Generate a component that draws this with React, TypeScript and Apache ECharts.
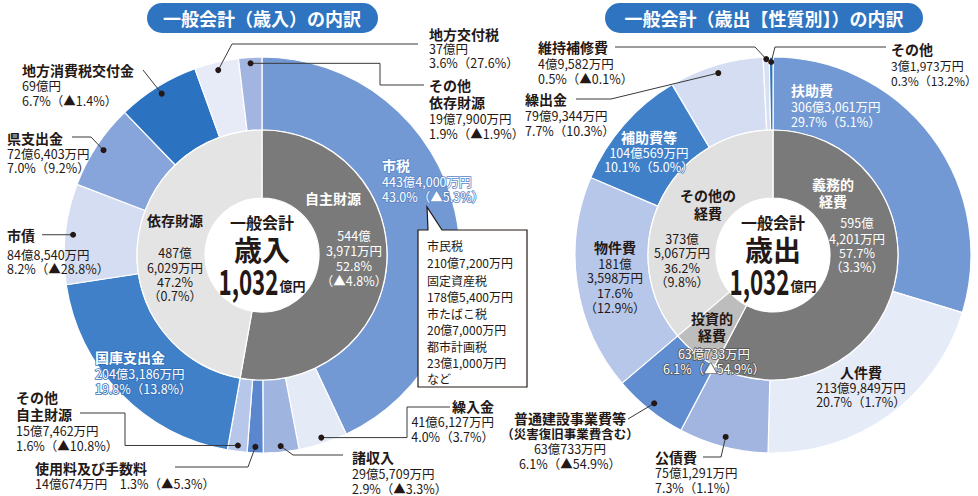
import React, { useEffect, useRef } from 'react';
import * as echarts from 'echarts';

// ---------- data ----------
const totalAmount = '1,032';

const revenueGroups = ['自主財源', '依存財源'];
const revenueGroupShares = [52.8, 47.2];
const revenueGroupAmounts = ['544億3,971万円', '487億6,029万円'];
const revenueGroupChanges = ['▲4.8%', '0.7%'];

const revenueItems = ['市税', '繰入金', '諸収入', '使用料及び手数料', 'その他自主財源', '国庫支出金', '市債', '県支出金', '地方消費税交付金', '地方交付税', 'その他依存財源'];
const revenueShares = [43.0, 4.0, 2.9, 1.3, 1.6, 19.8, 8.2, 7.0, 6.7, 3.6, 1.9];
const revenueAmounts = ['443億4,000万円', '41億6,127万円', '29億5,709万円', '14億674万円', '15億7,462万円', '204億3,186万円', '84億8,540万円', '72億6,403万円', '69億円', '37億円', '19億7,900万円'];
const revenueChanges = ['▲5.3%', '3.7%', '▲3.3%', '▲5.3%', '▲10.8%', '13.8%', '▲28.8%', '9.2%', '▲1.4%', '27.6%', '▲1.9%'];

const cityTaxItems = ['市民税', '固定資産税', '市たばこ税', '都市計画税'];
const cityTaxAmounts = ['210億7,200万円', '178億5,400万円', '20億7,000万円', '23億1,000万円'];

const expenditureGroups = ['義務的経費', '投資的経費', 'その他の経費'];
const expenditureGroupShares = [57.7, 6.1, 36.2];
const expenditureGroupAmounts = ['595億4,201万円', '63億733万円', '373億5,067万円'];
const expenditureGroupChanges = ['3.3%', '▲54.9%', '9.8%'];

const expenditureItems = ['扶助費', '人件費', '公債費', '普通建設事業費等', '物件費', '補助費等', '繰出金', '維持補修費', 'その他'];
const expenditureShares = [29.7, 20.7, 7.3, 6.1, 17.6, 10.1, 7.7, 0.5, 0.3];
const expenditureAmounts = ['306億3,061万円', '213億9,849万円', '75億1,291万円', '63億733万円', '181億3,598万円', '104億569万円', '79億9,344万円', '4億9,582万円', '3億1,973万円'];
const expenditureChanges = ['5.1%', '1.7%', '1.1%', '▲54.9%', '12.9%', '5.0%', '10.3%', '▲0.1%', '13.2%'];

// ---------- styles ----------
const FONT = '"Noto Sans CJK JP", "Noto Sans", sans-serif';
const DARK = '#231815';
const REV_INNER_COLORS = ['#7a7a7a', '#e4e4e4'];
const REV_OUTER_COLORS = ['#7399d4', '#e5eaf7', '#a0b4e0', '#5a87cd', '#b7c7ea', '#3f80c9', '#d4ddf2', '#87a4db', '#2b72c0', '#e7ebf8', '#a2b5e1'];
const EXP_INNER_COLORS = ['#7a7a7a', '#bdbdbd', '#e0e0e0'];
const EXP_OUTER_COLORS = ['#7399d4', '#e6ebf8', '#a2b5e1', '#5f8dd0', '#b7c7ea', '#3f80c9', '#d4ddf2', '#d8e0f3', '#2b72c0'];

const LC = [262, 255];
const RC = [773, 255];
const R_IN = 57;
const R_MID = 125;
const R_OUT = 198;

const pct = (s: number, c: string) => `${s.toFixed(1)}%（${c}）`;
const yen = (a: string) => a.split('億');

function measure(text: string, font: string) {
  const ctx = document.createElement('canvas').getContext('2d');
  if (!ctx) return text.length * 10;
  ctx.font = font;
  return ctx.measureText(text).width;
}

function anchor(shares: number[], idx: number, c: number[], r: number) {
  const total = shares.reduce((a, b) => a + b, 0);
  let cum = 0;
  for (let i = 0; i < idx; i++) cum += shares[i];
  const f = (cum + shares[idx] / 2) / total;
  const a = f * Math.PI * 2;
  return [c[0] + r * Math.sin(a), c[1] - r * Math.cos(a)];
}

type TO = { bold?: boolean; size?: number; fill?: string; align?: string; stroke?: string; lw?: number };
function T(text: string, x: number, y: number, o: TO = {}) {
  const size = o.size ?? 12.5;
  const st: any = {
    text, x, y,
    fill: o.fill ?? DARK,
    font: `${o.bold ? 'bold' : 'normal'} ${size}px ${FONT}`,
    lineHeight: Math.round(size * 1.05),
    textAlign: o.align ?? 'left',
    textVerticalAlign: 'middle',
    align: o.align ?? 'left',
    verticalAlign: 'middle',
  };
  if (o.stroke) {
    st.stroke = o.stroke;
    st.lineWidth = o.lw ?? 2;
    st.strokeFirst = true;
  }
  return { type: 'text', z: 20, silent: true, style: st };
}
function L(points: number[][]) {
  return { type: 'polyline', z: 20, silent: true, shape: { points }, style: { stroke: '#3a3a3a', lineWidth: 1, fill: null } };
}
function D(p: number[]) {
  return { type: 'circle', z: 21, silent: true, shape: { cx: p[0], cy: p[1], r: 3 }, style: { fill: DARK } };
}
function block(lines: { t: string; bold?: boolean; size?: number }[], x: number, ys: number[], o: TO = {}) {
  return lines.map((l, i) => T(l.t, x, ys[i], { ...o, bold: l.bold, size: l.size ?? (l.bold ? 14 : o.size ?? 12.5) }));
}
function centerTotal(c: number[], word: string) {
  const numFont = `bold 35px ${FONT}`;
  const unitFont = `bold 13px ${FONT}`;
  const targetNumW = 60;
  const sx = targetNumW / measure(totalAmount, numFont);
  const unitW = measure('億円', unitFont);
  const start = c[0] - (targetNumW + 1 + unitW) / 2;
  return [
    T('一般会計', c[0], 222, { bold: true, size: 16, align: 'center' }),
    T(word, c[0], 249, { bold: true, size: 28, align: 'center' }),
    { type: 'text', z: 20, silent: true, x: start, y: 280, scaleX: sx,
      style: { text: totalAmount, x: 0, y: 0, fill: DARK, font: numFont, lineHeight: 30, textAlign: 'left', textVerticalAlign: 'middle', align: 'left', verticalAlign: 'middle' } },
    T('億円', start + targetNumW + 1, 285, { bold: true, size: 13 }),
  ];
}

function buildGraphics() {
  const g: any[] = [];
  // titles
  g.push({ type: 'rect', z: 5, silent: true, shape: { x: 147, y: 3, width: 231, height: 30, r: 15 }, style: { fill: '#2f74c0' } });
  g.push(T('一般会計（歳入）の内訳', 262, 18, { bold: true, size: 18, fill: '#fff', align: 'center' }));
  g.push({ type: 'rect', z: 5, silent: true, shape: { x: 605, y: 3, width: 318, height: 30, r: 15 }, style: { fill: '#2f74c0' } });
  g.push(T('一般会計（歳出【性質別】）の内訳', 764, 18, { bold: true, size: 18, fill: '#fff', align: 'center' }));

  // ---- revenue ----
  g.push(...centerTotal(LC, '歳入'));
  g.push(T(revenueGroups[0], 333, 198, { bold: true, size: 14, fill: '#fff', align: 'center' }));
  {
    const [a, b] = yen(revenueGroupAmounts[0]);
    g.push(...block([{ t: a + '億' }, { t: b }, { t: revenueGroupShares[0].toFixed(1) + '%' }, { t: `（${revenueGroupChanges[0]}）` }], 354, [235, 250, 265, 280], { fill: '#fff', align: 'center' }));
  }
  g.push(T(revenueGroups[1], 175, 220, { bold: true, size: 14, align: 'center' }));
  {
    const [a, b] = yen(revenueGroupAmounts[1]);
    g.push(...block([{ t: a + '億' }, { t: b }, { t: revenueGroupShares[1].toFixed(1) + '%' }, { t: `（${revenueGroupChanges[1]}）` }], 175, [252, 267, 281, 295], { align: 'center' }));
  }
  const rl = (i: number) => [{ t: revenueAmounts[i] }, { t: pct(revenueShares[i], revenueChanges[i]) }];
  // 市税
  g.push(...block([{ t: revenueItems[0], bold: true }, ...rl(0)], 382, [165, 181, 196], { fill: '#fff', stroke: '#5b86c8', lw: 1.6 }));
  // 国庫支出金
  g.push(...block([{ t: revenueItems[5], bold: true }, ...rl(5)], 95, [357, 373, 388], { fill: '#fff', stroke: '#3470b8', lw: 1.6 }));
  // 地方交付税
  {
    const p = anchor(revenueShares, 9, LC, 190);
    g.push(L([[418, 44], [232, 44], p]), D(p));
    g.push(...block([{ t: revenueItems[9], bold: true }, ...rl(9)], 429, [34, 48, 62]));
  }
  // その他依存財源
  {
    const p = anchor(revenueShares, 10, LC, 192);
    g.push(L([p, [380, p[1]], [380, 85], [424, 85]]), D(p));
    g.push(...block([{ t: 'その他', bold: true }, { t: '依存財源', bold: true }, ...rl(10)], 429, [85, 102, 118, 133]));
  }
  // 地方消費税交付金
  {
    const p = anchor(revenueShares, 8, LC, 190);
    g.push(L([[143, 70], p]), D(p));
    g.push(...block([{ t: revenueItems[8], bold: true }, ...rl(8)], 22, [70, 85, 100]));
  }
  // 県支出金
  {
    const p = anchor(revenueShares, 7, LC, 190);
    g.push(L([[72, 137], [91, 137], p]), D(p));
    g.push(...block([{ t: revenueItems[7], bold: true }, ...rl(7)], 7, [138, 153, 167]));
  }
  // 市債
  {
    const p = anchor(revenueShares, 6, LC, 190);
    g.push(L([[42, p[1]], p]), D(p));
    g.push(...block([{ t: revenueItems[6], bold: true }, ...rl(6)], 7, [p[1], 254, 268]));
  }
  // その他自主財源
  {
    const p = anchor(revenueShares, 4, LC, 192);
    g.push(L([[80, 413], [125, 413], [125, p[1]], p]), D(p));
    g.push(...block([{ t: 'その他', bold: true }, { t: '自主財源', bold: true }, ...rl(4)], 16, [397, 414, 430, 445]));
  }
  // 使用料及び手数料
  {
    const p = anchor(revenueShares, 3, LC, 192);
    g.push(L([[175, 467], [248, 467], p]), D(p));
    g.push(T(revenueItems[3], 35, 468, { bold: true, size: 14 }));
    g.push(T(`${revenueAmounts[3]}　${pct(revenueShares[3], revenueChanges[3])}`, 35, 483));
  }
  // 諸収入
  {
    const p = anchor(revenueShares, 2, LC, 192);
    g.push(L([p, [293, 455], [343, 455]]), D(p));
    g.push(...block([{ t: revenueItems[2], bold: true }, ...rl(2)], 352, [457, 473, 488]));
  }
  // 繰入金
  {
    const p = anchor(revenueShares, 1, LC, 192);
    g.push(L([p, [407, p[1]], [407, 407], [450, 407]]), D(p));
    g.push(...block([{ t: revenueItems[1], bold: true }, ...rl(1)], 494, [406, 421, 436], { align: 'right' }));
  }
  // 市税 callout box
  g.push({
    type: 'polygon', z: 15, silent: true,
    shape: { points: [[418, 230], [428, 230], [427, 207], [442, 230], [527, 230], [527, 387], [418, 387]] },
    style: { fill: '#fff', stroke: DARK, lineWidth: 1.2 },
  });
  {
    const ys = [245, 262, 280, 296, 313, 329, 346, 362];
    cityTaxItems.forEach((n, i) => {
      g.push(T(n, 427, ys[i * 2], { size: 12 }));
      g.push(T(cityTaxAmounts[i], 427, ys[i * 2 + 1], { size: 12 }));
    });
    g.push(T('など', 427, 378, { size: 12 }));
  }

  // ---- expenditure ----
  g.push(...centerTotal(RC, '歳出'));
  g.push(...block([{ t: '義務的', bold: true }, { t: '経費', bold: true }], 833, [184, 201], { fill: '#fff', align: 'center' }));
  {
    const [a, b] = yen(expenditureGroupAmounts[0]);
    g.push(...block([{ t: a + '億' }, { t: b }, { t: expenditureGroupShares[0].toFixed(1) + '%' }, { t: `（${expenditureGroupChanges[0]}）` }], 857, [222, 238, 252, 266], { fill: '#fff', align: 'center' }));
  }
  g.push(...block([{ t: 'その他の', bold: true }, { t: '経費', bold: true }], 708, [195, 213], { align: 'center' }));
  {
    const [a, b] = yen(expenditureGroupAmounts[2]);
    g.push(...block([{ t: a + '億' }, { t: b }, { t: expenditureGroupShares[2].toFixed(1) + '%' }, { t: `（${expenditureGroupChanges[2]}）` }], 682, [238, 252, 267, 281], { align: 'center' }));
  }
  g.push(...block([{ t: '投資的', bold: true }, { t: '経費', bold: true }], 712, [318, 335], { align: 'center' }));
  g.push(...block([{ t: expenditureGroupAmounts[1] }, { t: pct(expenditureGroupShares[1], expenditureGroupChanges[1]) }], 714, [353, 368], { fill: '#fff', align: 'center', stroke: '#555', lw: 1.6 }));

  const el = (i: number) => [{ t: expenditureAmounts[i] }, { t: pct(expenditureShares[i], expenditureChanges[i]) }];
  // 扶助費
  g.push(...block([{ t: expenditureItems[0], bold: true }, ...el(0)], 791, [90, 106, 121], { fill: '#fff' }));
  // 補助費等
  g.push(...block([{ t: expenditureItems[5], bold: true }, ...el(5)], 649, [137, 152, 166], { fill: '#fff', align: 'center', stroke: '#3f80c9', lw: 1.4 }));
  // 物件費
  {
    const [a, b] = yen(expenditureAmounts[4]);
    g.push(...block([{ t: expenditureItems[4], bold: true }, { t: a + '億' }, { t: b }, { t: expenditureShares[4].toFixed(1) + '%' }, { t: `（${expenditureChanges[4]}）` }], 615, [247, 263, 277, 292, 307], { align: 'center' }));
  }
  // 人件費
  g.push(...block([{ t: expenditureItems[1], bold: true }, ...el(1)], 861, [372, 387, 401], { align: 'center' }));
  // その他
  {
    const p = anchor(expenditureShares, 8, RC, 193);
    g.push(L([p, [775, 47], [886, 47]]), D(p));
    g.push(...block([{ t: expenditureItems[8], bold: true }, ...el(8)], 891, [49, 65, 80], { size: 12 }));
  }
  // 維持補修費
  {
    const p = anchor(expenditureShares, 7, RC, 196);
    g.push(L([[615, 47], [755, 47], p]), D(p));
    g.push(...block([{ t: expenditureItems[7], bold: true }, ...el(7)], 538, [47, 63, 78]));
  }
  // 繰出金
  {
    const p = anchor(expenditureShares, 6, RC, 190);
    g.push(L([[576, 99], [611, 99], p]), D(p));
    g.push(...block([{ t: expenditureItems[6], bold: true }, ...el(6)], 525, [99, 115, 130]));
  }
  // 普通建設事業費等
  {
    const p = anchor(expenditureShares, 3, RC, 190);
    g.push(L([[628, 419], p]), D(p));
    g.push(...block([{ t: expenditureItems[3], bold: true }, { t: '（災害復旧事業費含む）', bold: true, size: 12.5 }, ...el(3)], 570, [418, 433, 448, 463], { align: 'center' }));
  }
  // 公債費
  {
    const p = anchor(expenditureShares, 2, RC, 188);
    g.push(L([[703, 457], [721, 457], p]), D(p));
    g.push(...block([{ t: expenditureItems[2], bold: true }, ...el(2)], 655, [457, 472, 487]));
  }
  return g;
}

function pie(c: number[], radius: number[], names: string[], values: number[], colors: string[]) {
  return {
    type: 'pie', center: c, radius, startAngle: 90, clockwise: true, silent: true,
    label: { show: false }, labelLine: { show: false }, z: 2,
    itemStyle: { borderColor: '#fff', borderWidth: 1.2 },
    data: names.map((n, i) => ({ name: n, value: values[i], itemStyle: { color: colors[i] } })),
  };
}

export default function App() {
  const ref = useRef<HTMLDivElement>(null);
  useEffect(() => {
    if (!ref.current) return;
    const chart = echarts.init(ref.current, undefined, { renderer: 'svg' });
    chart.setOption({
      animation: false,
      backgroundColor: '#fff',
      series: [
        pie(LC, [R_MID, R_OUT], revenueItems, revenueShares, REV_OUTER_COLORS),
        pie(LC, [R_IN, R_MID], revenueGroups, revenueGroupShares, REV_INNER_COLORS),
        pie(RC, [R_MID, R_OUT], expenditureItems, expenditureShares, EXP_OUTER_COLORS),
        pie(RC, [R_IN, R_MID], expenditureGroups, expenditureGroupShares, EXP_INNER_COLORS),
      ],
      graphic: { elements: buildGraphics() },
    });
    return () => chart.dispose();
  }, []);
  return <div ref={ref} style={{ position: 'fixed', left: 0, top: 0, width: 978, height: 496, background: '#fff' }} />;
}
